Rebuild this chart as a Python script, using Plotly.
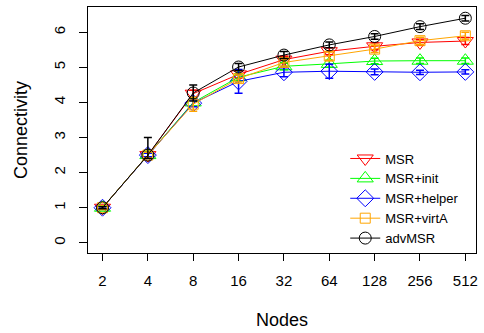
import plotly.graph_objects as go

nodes = ["2", "4", "8", "16", "32", "64", "128", "256", "512"]

msr = [1.0, 2.5, 4.25, 4.8, 5.22, 5.46, 5.6, 5.71, 5.75]
msr_init = [1.0, 2.5, 4.0, 4.72, 5.03, 5.1, 5.18, 5.19, 5.19]
msr_helper = [1.0, 2.5, 3.98, 4.6, 4.86, 4.89, 4.87, 4.86, 4.87]
msr_virta = [1.0, 2.5, 3.95, 4.68, 5.14, 5.32, 5.52, 5.76, 5.9]
adv_msr = [1.0, 2.5, 4.27, 5.01, 5.35, 5.64, 5.88, 6.16, 6.4]

err_msr = [0.05, 0.08, 0.1, 0.1, 0.1, 0.1, 0.1, 0.08, 0.1]
err_init = [0.05, 0.08, 0.1, 0.1, 0.1, 0.1, 0.08, 0.08, 0.08]
err_helper = [0.03, 0.05, 0.1, 0.34, 0.13, 0.2, 0.08, 0.06, 0.06]
err_virta = [0.05, 0.08, 0.2, 0.1, 0.1, 0.12, 0.1, 0.1, 0.1]
err_adv_plus = [0.03, 0.5, 0.23, 0.1, 0.1, 0.08, 0.08, 0.08, 0.08]
err_adv_minus = [0.03, 0.1, 0.23, 0.1, 0.1, 0.08, 0.08, 0.08, 0.08]

series = [
    ("MSR", msr, err_msr, err_msr, "#FF0000", "triangle-down-open", 14),
    ("MSR+init", msr_init, err_init, err_init, "#00FF00", "triangle-up-open", 14),
    ("MSR+helper", msr_helper, err_helper, err_helper, "#0000FF", "diamond-open", 13),
    ("MSR+virtA", msr_virta, err_virta, err_virta, "#FFA500", "square-open", 10),
    ("advMSR", adv_msr, err_adv_plus, err_adv_minus, "#000000", "circle-open", 12),
]

xidx = list(range(len(nodes)))
fig = go.Figure()
for name, ys, ep, em, col, sym, sz in series:
    fig.add_trace(go.Scatter(
        x=xidx, y=ys, name=name, mode="lines+markers",
        line=dict(color=col, width=1),
        marker=dict(symbol=sym, size=sz, color=col, line=dict(color=col, width=1)),
        error_y=dict(type="data", symmetric=False, array=ep, arrayminus=em,
                     color=col, thickness=1.5, width=4),
    ))

font = "Liberation Sans, Arial, sans-serif"
fig.update_layout(
    width=484, height=333,
    margin=dict(l=88, r=7, t=6, b=77),
    paper_bgcolor="white", plot_bgcolor="white",
    font=dict(family=font, size=15, color="black"),
    showlegend=True,
    legend=dict(x=0.663, y=0.445, xanchor="left", yanchor="top",
                bgcolor="rgba(0,0,0,0)", font=dict(size=13), tracegroupgap=0),
    xaxis=dict(
        range=[-0.32, 8.235], tickmode="array", tickvals=xidx, ticktext=nodes,
        showgrid=False, zeroline=False, showline=True, mirror=True,
        linecolor="black", linewidth=1, ticks="outside", ticklen=7,
        tickcolor="black", ticklabelstandoff=7,
        title=dict(text="Nodes", standoff=25),
    ),
    yaxis=dict(
        range=[-0.29, 6.72], tickmode="array", tickvals=[0, 1, 2, 3, 4, 5, 6],
        showgrid=False, zeroline=False, showline=True, mirror=True,
        linecolor="black", linewidth=1, ticks="outside", ticklen=8,
        tickcolor="black", tickangle=-90, ticklabelstandoff=8,
        title=dict(text="Connectivity", standoff=18),
    ),
)

fig.write_html("out.html", config={"displayModeBar": False},
               post_script="document.body.style.margin='0';")
